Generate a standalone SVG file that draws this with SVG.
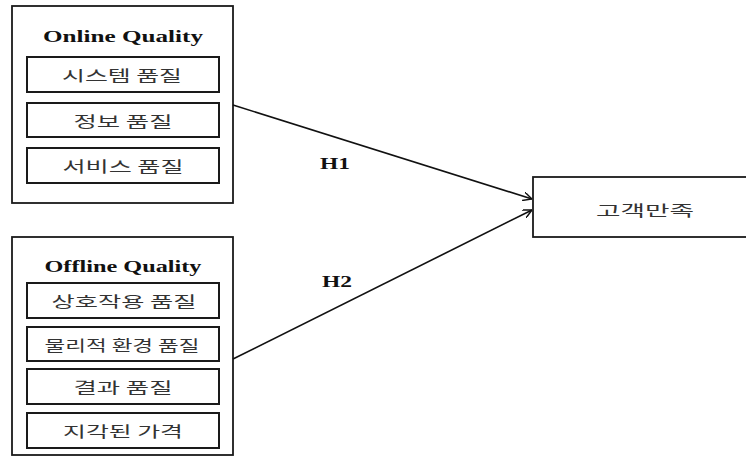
<svg xmlns="http://www.w3.org/2000/svg" width="746" height="457" viewBox="0 0 746 457">
<style>
.outer{fill:#fff;stroke:#1a1a1a;stroke-width:1.8}
.inner{fill:#fff;stroke:#1a1a1a;stroke-width:2}
.title{font-family:"Liberation Serif","Times New Roman",serif;font-weight:bold;font-size:17px;fill:#111;text-anchor:middle}
.ko{font-family:"Noto Sans CJK KR","Noto Sans",sans-serif;font-size:15px;fill:#333;text-anchor:middle}
.h{font-family:"Liberation Serif","Times New Roman",serif;font-weight:bold;font-size:17px;fill:#111}
.edge{fill:none;stroke:#111;stroke-width:1.6}
</style>
<defs>
<marker id="arr" viewBox="0 0 10 10" refX="10" refY="5" markerWidth="9" markerHeight="9" markerUnits="userSpaceOnUse" orient="auto">
<path d="M0,0 L10,5 L0,10" fill="none" stroke="#111" stroke-width="1.6"/>
</marker>
</defs>
<rect width="746" height="457" fill="#fff"/>
<g id="online">
<rect class="outer" x="12" y="6" width="221" height="197"/>
<text class="title" x="123" y="42" textLength="160" lengthAdjust="spacingAndGlyphs">Online Quality</text>
<g id="system-quality">
<rect class="inner" x="27" y="57" width="192" height="35"/>
<text class="ko" x="122" y="81" textLength="120" lengthAdjust="spacingAndGlyphs">시스템 품질</text>
</g>
<g id="info-quality">
<rect class="inner" x="27" y="103" width="192" height="34"/>
<text class="ko" x="123" y="127" textLength="99" lengthAdjust="spacingAndGlyphs">정보 품질</text>
</g>
<g id="service-quality">
<rect class="inner" x="27" y="148" width="192" height="35"/>
<text class="ko" x="123" y="172" textLength="121" lengthAdjust="spacingAndGlyphs">서비스 품질</text>
</g>
</g>
<g id="offline">
<rect class="outer" x="12" y="237" width="221" height="218"/>
<text class="title" x="123" y="272" textLength="157" lengthAdjust="spacingAndGlyphs">Offline Quality</text>
<g id="interaction-quality">
<rect class="inner" x="27" y="283" width="192" height="35"/>
<text class="ko" x="124" y="307" textLength="145" lengthAdjust="spacingAndGlyphs">상호작용 품질</text>
</g>
<g id="physical-quality">
<rect class="inner" x="27" y="327" width="192" height="34"/>
<text class="ko" x="122" y="351" textLength="155" lengthAdjust="spacingAndGlyphs">물리적 환경 품질</text>
</g>
<g id="outcome-quality">
<rect class="inner" x="27" y="369" width="192" height="35"/>
<text class="ko" x="123" y="393" textLength="99" lengthAdjust="spacingAndGlyphs">결과 품질</text>
</g>
<g id="perceived-price">
<rect class="inner" x="27" y="413" width="192" height="35"/>
<text class="ko" x="123" y="437" textLength="120" lengthAdjust="spacingAndGlyphs">지각된 가격</text>
</g>
</g>
<g id="satisfaction">
<rect class="outer" x="533" y="177" width="220" height="60"/>
<text class="ko" x="645" y="216" textLength="98" lengthAdjust="spacingAndGlyphs">고객만족</text>
</g>
<g id="connectors">
<line class="edge" x1="233" y1="105" x2="532" y2="199" marker-end="url(#arr)"/>
<line class="edge" x1="233" y1="359" x2="532" y2="210" marker-end="url(#arr)"/>
<text class="h" x="320" y="169" textLength="30" lengthAdjust="spacingAndGlyphs">H1</text>
<text class="h" x="322" y="287" textLength="30" lengthAdjust="spacingAndGlyphs">H2</text>
</g>
</svg>
